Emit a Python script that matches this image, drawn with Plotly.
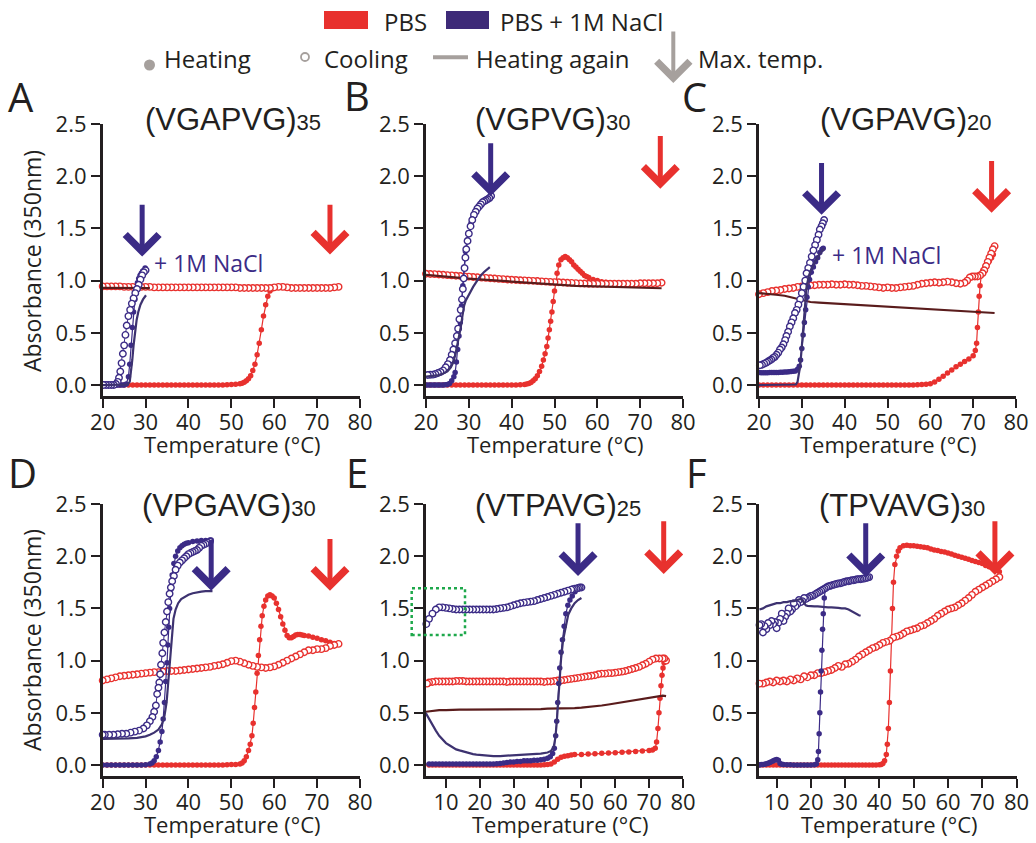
import plotly.graph_objects as go

W, H = 1036, 843
RED = "#e8312e"
BLUE = "#3b2b86"
RED_AGAIN = "#5a1c1c"
BLUE_AGAIN = "#3d3270"
GREY = "#a6a09d"
INK = "#231f20"

# ---------------- data (temperature °C, absorbance 350 nm) ----------------
# Panel A (VGAPVG)35
A_PBS_HEAT = [(20,0),(21,0),(22,0),(23,0),(24,0),(25,0),(26,0),(27,0),(28,0),(29,0),(30,0),(31,0),(32,0),(33,0),(34,0),(35,0),(36,0),(37,0),(38,0),(39,0),(40,0),(41,0),(42,0),(43,0),(44,0),(45,0),(46,0),(47,0),(48,0),(49,0.002),(50,0.004),(51,0.007),(52,0.012),(52.5,0.018),(53,0.026),(53.5,0.04),(54,0.06),(54.5,0.09),(55,0.14),(55.5,0.2),(56,0.29),(56.5,0.4),(57,0.53),(57.5,0.66),(58,0.77),(58.5,0.85),(59,0.9),(59.5,0.92),(60,0.93),(61,0.94),(62,0.94),(63,0.935),(64,0.935),(65,0.93),(66,0.93),(67,0.93),(68,0.93),(69,0.93),(70,0.93),(71,0.93),(72,0.93),(73,0.93),(74,0.93),(75,0.935)]
A_PBS_COOL = [(75,0.94),(74,0.935),(73,0.93),(72,0.93),(71,0.93),(70,0.93),(69,0.93),(68,0.93),(67,0.93),(66,0.93),(65,0.93),(64,0.93),(63,0.935),(62,0.94),(61,0.94),(60,0.935),(59,0.93),(58,0.93),(57,0.93),(56,0.93),(55,0.93),(54,0.93),(53,0.93),(52,0.93),(51,0.935),(50,0.935),(49,0.935),(48,0.935),(47,0.935),(46,0.935),(45,0.935),(44,0.935),(43,0.935),(42,0.935),(41,0.935),(40,0.935),(39,0.935),(38,0.935),(37,0.935),(36,0.935),(35,0.935),(34,0.935),(33,0.935),(32,0.935),(31,0.94),(30,0.94),(29,0.94),(28,0.94),(27,0.94),(26,0.94),(25,0.94),(24,0.945),(23,0.945),(22,0.945),(21,0.945),(20,0.945)]
A_PBS_AGAIN = [(20,0.93),(22,0.93),(24,0.93),(26,0.93),(28,0.93),(30,0.928),(31,0.928)]
A_NACL_HEAT = [(20,0),(20.5,0),(21,0),(21.5,0),(22,0),(22.5,0),(23,0),(23.5,0),(24,0),(24.5,0),(25,0),(25.5,0.01),(26,0.08),(26.3,0.2),(26.6,0.38),(26.9,0.55),(27.2,0.7),(27.5,0.82),(27.8,0.92),(28.1,0.98),(28.4,1.02),(28.7,1.05),(29,1.07),(29.3,1.09),(29.6,1.1),(29.9,1.12)]
A_NACL_COOL = [(30,1.1),(29.6,1.08),(29.2,1.05),(28.8,1.01),(28.4,0.96),(28.0,0.92),(27.6,0.88),(27.2,0.83),(26.8,0.78),(26.4,0.72),(26.0,0.66),(25.6,0.57),(25.3,0.48),(25.0,0.38),(24.7,0.3),(24.4,0.21),(24.1,0.13),(23.8,0.07),(23.5,0.03),(23.1,0.01),(22.6,0),(22,0),(21.4,0),(20.8,0),(20.2,0)]
A_NACL_AGAIN = [(20,0),(22,0),(24,0),(25,0),(25.8,0.005),(26.3,0.03),(26.6,0.12),(26.9,0.24),(27.2,0.38),(27.5,0.5),(27.9,0.62),(28.3,0.7),(28.8,0.77),(29.4,0.82),(30.1,0.86)]

# Panel B (VGPVG)30
B_PBS_HEAT = [(20,0),(21,0),(22,0),(23,0),(24,0),(25,0),(26,0),(27,0),(28,0),(29,0),(30,0),(31,0),(32,0),(33,0),(34,0),(35,0),(36,0),(37,0),(38,0),(39,0),(40,0),(41,0),(42,0.003),(43,0.006),(43.5,0.01),(44,0.015),(44.5,0.025),(45,0.04),(45.5,0.06),(46,0.09),(46.5,0.13),(47,0.18),(47.4,0.24),(47.8,0.3),(48.2,0.37),(48.5,0.45),(48.8,0.53),(49.1,0.61),(49.4,0.7),(49.7,0.8),(50,0.9),(50.3,0.98),(50.6,1.07),(51,1.15),(51.5,1.2),(52,1.22),(52.5,1.23),(53,1.22),(53.5,1.2),(54,1.18),(54.5,1.15),(55,1.13),(55.5,1.11),(56,1.09),(56.5,1.07),(57,1.05),(57.5,1.04),(58,1.03),(59,1.01),(60,1.0),(61,0.99),(62,0.985),(63,0.98),(64,0.98),(65,0.975),(66,0.975),(67,0.975),(68,0.975),(69,0.975),(70,0.975),(71,0.975),(72,0.975),(73,0.975),(74,0.975),(75,0.98)]
B_PBS_COOL = [(75,0.98),(74,0.975),(73,0.975),(72,0.975),(71,0.975),(70,0.975),(69,0.97),(68,0.97),(67,0.97),(66,0.97),(65,0.97),(64,0.97),(63,0.97),(62,0.97),(61,0.97),(60,0.97),(59,0.97),(58,0.97),(57,0.972),(56,0.974),(55,0.976),(54,0.978),(53,0.98),(52,0.982),(51,0.984),(50,0.986),(49,0.988),(48,0.99),(47,0.993),(46,0.996),(45,0.998),(44,1.0),(43,1.002),(42,1.004),(41,1.006),(40,1.008),(39,1.011),(38,1.014),(37,1.017),(36,1.02),(35,1.023),(34,1.026),(33,1.029),(32,1.032),(31,1.035),(30,1.038),(29,1.041),(28,1.044),(27,1.047),(26,1.05),(25,1.053),(24,1.056),(23,1.059),(22,1.062),(21,1.064),(20,1.066)]
B_PBS_AGAIN = [(20,1.055),(22.5,1.048),(25,1.04),(27.5,1.03),(30,1.02),(32.5,1.012),(35,1.005),(37.5,0.997),(40,0.99),(42.5,0.982),(45,0.975),(47.5,0.967),(50,0.96),(52.5,0.955),(55,0.95),(57.5,0.947),(60,0.945),(62.5,0.942),(65,0.94),(67.5,0.937),(70,0.935),(72.5,0.931),(75,0.927)]
B_NACL_HEAT = [(20,0),(20.5,0),(21,0),(21.5,0),(22,0),(22.5,0),(23,0),(23.5,0),(24,0),(24.5,0.002),(25,0.005),(25.5,0.015),(26,0.04),(26.5,0.08),(26.8,0.12),(27.1,0.22),(27.4,0.34),(27.7,0.47),(28,0.6),(28.3,0.76),(28.6,0.95),(28.9,1.13),(29.2,1.28),(29.6,1.39),(30,1.46),(30.5,1.55),(31,1.61),(31.5,1.66),(32,1.69),(32.5,1.72),(33,1.74),(33.5,1.76),(34,1.77),(34.5,1.78),(35,1.8)]
B_NACL_COOL = [(35.2,1.81),(34.8,1.79),(34.4,1.78),(34,1.77),(33.6,1.76),(33.2,1.75),(32.8,1.73),(32.4,1.71),(32,1.69),(31.6,1.66),(31.2,1.63),(30.8,1.58),(30.4,1.52),(30,1.45),(29.7,1.38),(29.4,1.3),(29.2,1.22),(29,1.12),(28.8,1.02),(28.6,0.92),(28.4,0.82),(28.1,0.72),(27.8,0.63),(27.5,0.54),(27.2,0.47),(26.8,0.4),(26.4,0.34),(26,0.29),(25.6,0.24),(25.1,0.2),(24.6,0.17),(24,0.14),(23.4,0.125),(22.8,0.115),(22.2,0.105),(21.6,0.1),(21,0.098),(20.4,0.096)]
B_NACL_AGAIN = [(20,0.08),(21,0.085),(22,0.09),(23,0.095),(24,0.11),(25,0.13),(25.8,0.17),(26.4,0.22),(26.9,0.3),(27.3,0.38),(27.7,0.46),(28.1,0.55),(28.5,0.66),(28.9,0.76),(29.3,0.81),(29.8,0.85),(30.4,0.89),(31,0.94),(31.8,0.99),(32.6,1.04),(33.5,1.08),(34.2,1.11),(34.9,1.13)]

# Panel C (VGPAVG)20
C_PBS_HEAT = [(20,0),(21,0),(22,0),(23,0),(24,0),(25,0),(26,0),(27,0),(28,0),(29,0),(30,0),(31,0),(32,0),(33,0),(34,0),(35,0),(36,0),(37,0),(38,0),(39,0),(40,0),(41,0),(42,0),(43,0),(44,0),(45,0),(46,0),(47,0),(48,0),(49,0),(50,0),(51,0),(52,0),(53,0),(54,0),(55,0),(56,0),(57,0.002),(58,0.004),(59,0.007),(60,0.012),(61,0.03),(62,0.055),(63,0.085),(64,0.115),(65,0.145),(66,0.175),(67,0.2),(68,0.225),(69,0.25),(70,0.28),(70.5,0.33),(70.8,0.4),(71,0.55),(71.2,0.7),(71.4,0.85),(71.6,0.95),(71.9,1.05),(72.3,1.1),(72.8,1.13),(73.3,1.16),(73.8,1.19),(74.3,1.22),(74.7,1.25)]
C_PBS_COOL = [(75,1.33),(74.6,1.3),(74.2,1.26),(73.8,1.22),(73.4,1.18),(73,1.14),(72.6,1.1),(72.2,1.07),(71.6,1.05),(71,1.04),(70.4,1.04),(69.8,1.04),(69.2,1.03),(68.6,1.0),(68,0.98),(67,0.97),(66,0.975),(65,0.985),(64,0.99),(63,0.985),(62,0.98),(61,0.985),(60,0.98),(59,0.975),(58,0.97),(57,0.96),(56,0.95),(55,0.945),(54,0.94),(53,0.935),(52,0.93),(51,0.93),(50,0.935),(49,0.93),(48,0.935),(47,0.94),(46,0.945),(45,0.95),(44,0.95),(43,0.955),(42,0.96),(41,0.96),(40,0.965),(39,0.96),(38,0.96),(37,0.965),(36,0.96),(35,0.96),(34,0.96),(33,0.955),(32,0.955),(31,0.95),(30,0.945),(29,0.94),(28,0.93),(27,0.925),(26,0.92),(25,0.91),(24,0.905),(23,0.9),(22,0.89),(21,0.88),(20,0.87)]
C_PBS_AGAIN = [(20,0.88),(22,0.875),(24,0.865),(26,0.855),(28,0.835),(30,0.815),(32,0.795),(34,0.79),(36,0.785),(38,0.78),(40,0.78),(42,0.775),(44,0.77),(46,0.765),(48,0.76),(50,0.755),(52,0.75),(54,0.745),(56,0.74),(58,0.735),(60,0.73),(62,0.725),(64,0.72),(66,0.715),(68,0.71),(70,0.705),(72,0.7),(74,0.695),(75,0.69)]
C_NACL_HEAT = [(20,0.12),(20.5,0.118),(21,0.118),(21.5,0.118),(22,0.118),(22.5,0.119),(23,0.12),(23.5,0.12),(24,0.12),(24.5,0.121),(25,0.122),(25.5,0.123),(26,0.124),(26.5,0.125),(27,0.127),(27.5,0.129),(28,0.131),(28.5,0.135),(29,0.15),(29.4,0.18),(29.7,0.24),(30,0.35),(30.3,0.48),(30.6,0.6),(30.9,0.72),(31.2,0.84),(31.5,0.94),(31.8,1.01),(32.2,1.08),(32.7,1.13),(33.2,1.18),(33.7,1.22),(34.2,1.27),(34.7,1.3),(35,1.31)]
C_NACL_COOL = [(35.2,1.58),(34.9,1.55),(34.6,1.52),(34.2,1.49),(33.9,1.44),(33.5,1.39),(33.1,1.34),(32.7,1.29),(32.3,1.23),(31.9,1.17),(31.5,1.12),(31.1,1.07),(30.8,1.0),(30.4,0.94),(30,0.88),(29.6,0.82),(29.2,0.77),(28.8,0.72),(28.4,0.69),(28,0.64),(27.6,0.6),(27.2,0.56),(26.8,0.51),(26.4,0.47),(26.1,0.43),(25.7,0.39),(25.3,0.36),(24.9,0.34),(24.5,0.31),(24.1,0.29),(23.7,0.27),(23.3,0.26),(22.9,0.245),(22.5,0.235),(22.1,0.225),(21.7,0.215),(21.2,0.205),(20.7,0.195),(20.2,0.19)]
C_NACL_AGAIN = [(20,0),(22,0),(24,0),(26,0),(28,0),(28.6,0.005),(29,0.03),(29.3,0.09),(29.6,0.18),(29.9,0.32),(30.1,0.43),(30.3,0.56),(30.5,0.69),(30.8,0.82),(31.1,0.94),(31.6,1.04),(32.1,1.1),(32.8,1.16),(33.5,1.21),(34.3,1.26),(35.2,1.31)]

# Panel D (VPGAVG)30
D_PBS_HEAT = [(20,0),(21,0),(22,0),(23,0),(24,0),(25,0),(26,0),(27,0),(28,0),(29,0),(30,0),(31,0),(32,0),(33,0),(34,0),(35,0),(36,0),(37,0),(38,0),(39,0),(40,0),(41,0),(42,0),(43,0),(44,0),(45,0),(46,0),(47,0),(48,0),(49,0.002),(50,0.004),(51,0.006),(52,0.01),(52.5,0.02),(53,0.04),(53.5,0.08),(54,0.14),(54.4,0.2),(54.8,0.28),(55.1,0.4),(55.4,0.55),(55.7,0.7),(56,0.88),(56.3,1.05),(56.6,1.2),(56.9,1.33),(57.2,1.43),(57.6,1.52),(58,1.58),(58.5,1.62),(59,1.63),(59.5,1.62),(60,1.6),(60.5,1.55),(61,1.49),(61.5,1.42),(62,1.35),(62.5,1.29),(63,1.24),(63.5,1.22),(64,1.22),(64.5,1.23),(65,1.245),(65.5,1.25),(66,1.25),(66.5,1.245),(67,1.24),(68,1.235),(69,1.225),(70,1.215),(71,1.2),(72,1.19),(73,1.175),(74,1.165),(75,1.16)]
D_PBS_COOL = [(75,1.16),(74,1.15),(73,1.14),(72,1.12),(71,1.11),(70,1.11),(69,1.1),(68,1.1),(67,1.08),(66,1.06),(65,1.04),(64,1.02),(63,1.0),(62,0.98),(61,0.96),(60,0.945),(59,0.935),(58,0.93),(57,0.935),(56,0.94),(55,0.95),(54,0.96),(53,0.975),(52,0.99),(51,1.0),(50,0.995),(49,0.98),(48,0.965),(47,0.955),(46,0.95),(45,0.94),(44,0.935),(43,0.93),(42,0.925),(41,0.92),(40,0.915),(39,0.91),(38,0.905),(37,0.9),(36,0.9),(35,0.9),(34,0.895),(33,0.89),(32,0.89),(31,0.885),(30,0.88),(29,0.875),(28,0.87),(27,0.865),(26,0.86),(25,0.855),(24,0.85),(23,0.84),(22,0.83),(21,0.82),(20,0.81)]
D_NACL_HEAT = [(20,0),(21,0),(22,0),(23,0),(24,0),(25,0),(26,0),(27,0),(28,0),(29,0),(30,0.003),(31,0.01),(31.5,0.02),(32,0.04),(32.5,0.08),(33,0.14),(33.4,0.22),(33.8,0.32),(34.1,0.44),(34.4,0.6),(34.7,0.8),(35,0.98),(35.2,1.15),(35.4,1.32),(35.6,1.5),(35.9,1.68),(36.2,1.82),(36.6,1.93),(37,2.0),(37.5,2.05),(38,2.08),(38.5,2.1),(39,2.115),(39.5,2.125),(40,2.13),(41,2.14),(42,2.145),(43,2.15),(44,2.15),(45,2.155),(45.3,2.155)]
D_NACL_COOL = [(45,2.14),(44.5,2.13),(44,2.12),(43.5,2.11),(43,2.1),(42.5,2.08),(42,2.06),(41.5,2.05),(41,2.04),(40.5,2.03),(40,2.02),(39.5,2.0),(39,1.98),(38.5,1.96),(38,1.94),(37.5,1.91),(37,1.87),(36.6,1.81),(36.2,1.76),(35.9,1.7),(35.6,1.64),(35.3,1.56),(35.0,1.47),(34.7,1.37),(34.4,1.27),(34.1,1.17),(33.9,1.07),(33.6,0.96),(33.4,0.87),(33.2,0.79),(33.0,0.74),(32.7,0.68),(32.4,0.57),(32,0.51),(31.6,0.46),(31,0.42),(30.3,0.38),(29.5,0.35),(28.5,0.33),(27.5,0.32),(26.5,0.31),(25.5,0.3),(24.5,0.3),(23.5,0.295),(22.5,0.29),(21.5,0.29),(20.5,0.29),(20,0.29)]
D_NACL_AGAIN = [(20,0.25),(22,0.25),(24,0.25),(26,0.255),(28,0.26),(30,0.275),(31,0.29),(32,0.31),(33,0.34),(33.8,0.39),(34.4,0.47),(34.9,0.6),(35.2,0.75),(35.5,0.92),(35.8,1.1),(36.1,1.27),(36.5,1.4),(37,1.49),(37.6,1.55),(38.3,1.59),(39,1.61),(40,1.63),(41,1.645),(42,1.655),(43,1.66),(44,1.665),(45,1.665),(45.6,1.665)]

# Panel E (VTPAVG)25
E_PBS_HEAT = [(4,0),(5,0),(6,0),(7,0),(8,0),(9,0),(10,0),(11,0),(12,0),(13,0),(14,0),(15,0),(16,0),(17,0),(18,0),(19,0),(20,0),(21,0),(22,0),(23,0),(24,0),(25,0),(26,0),(27,0),(28,0),(29,0),(30,0),(31,0),(32,0),(33,0),(34,0),(35,0),(36,0),(37,0),(38,0),(39,0.002),(40,0.005),(41,0.01),(42,0.03),(43,0.055),(44,0.075),(45,0.085),(46,0.09),(47,0.095),(48,0.1),(50,0.1),(52,0.105),(54,0.108),(56,0.112),(58,0.115),(60,0.118),(62,0.122),(64,0.126),(66,0.13),(68,0.135),(70,0.14),(71,0.145),(71.8,0.16),(72.2,0.22),(72.6,0.35),(72.9,0.5),(73.2,0.64),(73.5,0.76),(73.8,0.86),(74.1,0.93),(74.4,0.98),(74.7,1.0)]
E_PBS_COOL = [(75,1.0),(74.5,1.02),(74,1.02),(73,1.02),(72,1.02),(71,1.01),(70,0.99),(69,0.97),(68,0.955),(67,0.94),(66,0.93),(65,0.92),(64,0.91),(63,0.9),(62,0.895),(61,0.89),(60,0.885),(59,0.88),(58,0.88),(57,0.875),(56,0.875),(55,0.87),(54,0.86),(53,0.855),(52,0.85),(51,0.845),(50,0.84),(49,0.835),(48,0.83),(47,0.825),(46,0.82),(45,0.815),(44,0.81),(43,0.81),(42,0.805),(41,0.8),(40,0.8),(39,0.795),(38,0.8),(37,0.8),(36,0.8),(35,0.8),(34,0.8),(33,0.8),(32,0.8),(31,0.8),(30,0.8),(29,0.8),(28,0.795),(27,0.8),(26,0.8),(25,0.8),(24,0.8),(23,0.8),(22,0.8),(21,0.8),(20,0.8),(19,0.8),(18,0.8),(17,0.8),(16,0.8),(15,0.805),(14,0.805),(13,0.805),(12,0.8),(11,0.8),(10,0.8),(9,0.8),(8,0.8),(7,0.8),(6,0.795),(5,0.79),(4.4,0.78)]
E_PBS_AGAIN = [(4,0.51),(6,0.52),(8,0.525),(10,0.525),(12,0.53),(14,0.53),(16,0.53),(18,0.53),(20,0.53),(22,0.53),(24,0.53),(26,0.53),(28,0.53),(30,0.535),(32,0.535),(34,0.535),(36,0.535),(38,0.535),(40,0.54),(42,0.54),(44,0.54),(46,0.545),(48,0.545),(50,0.55),(52,0.555),(54,0.56),(56,0.57),(58,0.58),(60,0.59),(62,0.6),(64,0.61),(66,0.62),(68,0.63),(70,0.645),(72,0.655),(74,0.665),(75,0.66)]
E_NACL_HEAT = [(4,0.01),(5,0.01),(6,0.01),(7,0.01),(8,0.01),(9,0.01),(10,0.01),(11,0.01),(12,0.01),(13,0.01),(14,0.01),(15,0.01),(16,0.01),(17,0.01),(18,0.01),(19,0.01),(20,0.01),(21,0.01),(22,0.01),(23,0.01),(24,0.01),(25,0.012),(26,0.015),(27,0.02),(28,0.025),(29,0.03),(30,0.03),(31,0.035),(32,0.035),(33,0.04),(34,0.04),(35,0.04),(36,0.045),(37,0.045),(38,0.05),(39,0.055),(40,0.065),(40.8,0.08),(41.5,0.11),(42,0.16),(42.4,0.28),(42.7,0.42),(43,0.6),(43.3,0.78),(43.6,0.93),(44,1.08),(44.4,1.2),(44.9,1.33),(45.4,1.45),(46,1.53),(46.6,1.58),(47.3,1.62),(48.1,1.66),(48.8,1.68),(49.5,1.69),(50,1.7)]
E_NACL_COOL = [(50,1.7),(49.5,1.7),(49,1.695),(48.5,1.69),(48,1.69),(47.5,1.685),(47,1.68),(46,1.67),(45,1.66),(44,1.65),(43,1.64),(42,1.63),(41,1.62),(40,1.61),(39,1.6),(38,1.59),(37,1.58),(36,1.57),(35,1.565),(34,1.56),(33,1.555),(32,1.55),(31,1.54),(30,1.53),(29,1.52),(28,1.51),(27,1.505),(26,1.5),(25,1.495),(24,1.49),(23,1.49),(22,1.49),(21,1.49),(20,1.49),(19,1.49),(18,1.49),(17,1.49),(16,1.49),(15,1.49),(14,1.49),(13,1.49),(12,1.495),(11,1.5),(10,1.505),(9,1.51),(8,1.51),(7,1.49),(6,1.45),(5,1.4),(4.2,1.35)]
E_NACL_AGAIN = [(4,0.5),(5,0.44),(6,0.38),(7,0.33),(8,0.28),(9,0.24),(10,0.21),(11,0.19),(12,0.17),(13,0.15),(14,0.14),(15,0.13),(16,0.12),(17,0.11),(18,0.105),(19,0.1),(20,0.096),(22,0.09),(24,0.086),(26,0.086),(28,0.09),(30,0.095),(32,0.1),(34,0.1),(36,0.105),(38,0.11),(40,0.12),(41,0.135),(41.8,0.17),(42.3,0.26),(42.7,0.4),(43.1,0.6),(43.5,0.82),(44,1.02),(44.6,1.2),(45.3,1.33),(46.1,1.44),(47,1.5),(48,1.55),(49,1.58),(50,1.6)]

# Panel F (TPVAVG)30
F_PBS_HEAT = [(5,0),(6,0),(7,0),(8,0),(9,0),(10,0),(11,0),(12,0),(13,0),(14,0),(15,0),(16,0),(17,0),(18,0),(19,0),(20,0),(21,0),(22,0),(23,0),(24,0),(25,0),(26,0),(27,0),(28,0),(29,0),(30,0),(31,0),(32,0),(33,0),(34,0),(35,0),(36,0),(37,0),(38,0),(39,0),(40,0.002),(40.5,0.005),(41,0.015),(41.5,0.04),(42,0.1),(42.3,0.2),(42.6,0.35),(42.9,0.6),(43.2,0.9),(43.5,1.2),(43.8,1.5),(44.1,1.75),(44.5,1.92),(45,2.0),(45.5,2.05),(46,2.08),(47,2.1),(48,2.105),(49,2.1),(50,2.1),(51,2.095),(52,2.09),(53,2.085),(54,2.08),(55,2.07),(56,2.06),(57,2.055),(58,2.045),(59,2.04),(60,2.03),(61,2.02),(62,2.01),(63,2.0),(64,1.99),(65,1.98),(66,1.97),(67,1.96),(68,1.95),(69,1.94),(70,1.93),(71,1.91),(72,1.9),(73,1.89),(74,1.87),(75,1.85)]
F_PBS_COOL = [(75,1.8),(74,1.78),(73,1.76),(72,1.74),(71,1.72),(70,1.7),(69,1.68),(68,1.66),(67,1.63),(66,1.6),(65,1.575),(64,1.55),(63,1.53),(62,1.51),(61,1.5),(60,1.49),(59,1.47),(58,1.45),(57,1.43),(56,1.4),(55,1.38),(54,1.36),(53,1.34),(52,1.33),(51,1.31),(50,1.3),(49,1.29),(48,1.28),(47,1.26),(46,1.24),(45,1.23),(44,1.22),(43,1.19),(42,1.18),(41,1.17),(40,1.15),(39,1.13),(38,1.12),(37,1.1),(36,1.08),(35,1.06),(34,1.04),(33,1.01),(32,0.99),(31,0.97),(30,0.965),(29,0.94),(28,0.95),(27,0.93),(26,0.91),(25,0.9),(24,0.89),(23,0.88),(22,0.88),(21,0.86),(20,0.86),(19,0.84),(18,0.85),(17,0.82),(16,0.83),(15,0.81),(14,0.82),(13,0.8),(12,0.81),(11,0.8),(10,0.81),(9,0.79),(8,0.8),(7,0.79),(6,0.78),(5,0.78)]
F_NACL_HEAT = [(5,0),(5.5,0.005),(6,0.005),(6.5,0.008),(7,0.012),(7.5,0.018),(8,0.025),(8.5,0.032),(9,0.04),(9.5,0.048),(10,0.052),(10.5,0.045),(11,0.015),(11.5,0.008),(12,0.005),(13,0.003),(14,0.002),(15,0),(16,0),(17,0),(18,0),(19,0),(20,0),(21,0.002),(21.6,0.01),(22,0.05),(22.2,0.13),(22.4,0.3),(22.6,0.5),(22.8,0.7),(23,0.9),(23.2,1.1),(23.4,1.3),(23.6,1.45),(23.9,1.6),(24.2,1.68)]
F_NACL_COOL = [(37,1.8),(36.5,1.795),(36,1.79),(35.5,1.785),(35,1.785),(34.5,1.78),(34,1.78),(33.5,1.78),(33,1.775),(32.5,1.77),(32,1.77),(31.5,1.765),(31,1.76),(30.5,1.76),(30,1.755),(29.5,1.75),(29,1.745),(28.5,1.74),(28,1.74),(27.5,1.735),(27,1.73),(26.5,1.725),(26,1.72),(25.5,1.715),(25,1.71),(24.5,1.7),(24,1.69),(23.5,1.68),(23,1.67),(22.5,1.66),(22,1.65),(21.5,1.64),(21,1.63),(20.5,1.62),(20,1.62),(19.5,1.61),(19,1.6),(18.5,1.59),(18,1.6),(17.5,1.57),(17,1.56),(16.5,1.58),(16,1.54),(15.5,1.52),(15,1.55),(14.5,1.49),(14,1.47),(13.5,1.5),(13,1.45),(12.5,1.42),(12,1.38),(11.5,1.45),(11,1.4),(10.5,1.36),(10,1.31),(9.5,1.37),(9,1.35),(8.5,1.38),(8,1.34),(7.5,1.36),(7,1.3),(6.5,1.33),(6,1.27),(5.5,1.35),(5,1.34)]
F_NACL_AGAIN = [(5,1.49),(6,1.5),(7,1.52),(8,1.53),(9,1.54),(10,1.55),(11,1.55),(12,1.56),(13,1.56),(14,1.57),(15,1.57),(16,1.58),(17,1.59),(17.5,1.58),(18,1.55),(18.5,1.53),(19,1.525),(20,1.52),(21,1.52),(22,1.52),(23,1.515),(24,1.515),(25,1.51),(26,1.51),(27,1.51),(28,1.505),(29,1.5),(30,1.5),(31,1.49),(32,1.47),(33,1.45),(34,1.435),(34.5,1.43)]

# maximum-temperature arrows: (temperature, tip absorbance, tail absorbance)
A_ARROWS = {"nacl": (29.2, 1.23, 1.74), "pbs": (73.0, 1.25, 1.74)}
B_ARROWS = {"nacl": (35.1, 1.81, 2.33), "pbs": (74.7, 1.88, 2.40)}
C_ARROWS = {"nacl": (34.6, 1.63, 2.14), "pbs": (74.3, 1.65, 2.16)}
D_ARROWS = {"nacl": (45.3, 1.67, 2.17), "pbs": (73.0, 1.67, 2.18)}
E_ARROWS = {"nacl": (49.0, 1.81, 2.33), "pbs": (74.3, 1.83, 2.35)}
F_ARROWS = {"nacl": (36.0, 1.80, 2.33), "pbs": (73.7, 1.82, 2.35)}

LETTERS = ["A", "B", "C", "D", "E", "F"]
TITLES = ["(VGAPVG)", "(VGPVG)", "(VGPAVG)", "(VPGAVG)", "(VTPAVG)", "(TPVAVG)"]
SUBS = ["35", "30", "20", "30", "25", "30"]
Y_TICKS = [0, 0.5, 1.0, 1.5, 2.0, 2.5]
Y_LABELS = ["0.0", "0.5", "1.0", "1.5", "2.0", "2.5"]
X_TICKS_20 = [20, 30, 40, 50, 60, 70, 80]
X_TICKS_10 = [10, 20, 30, 40, 50, 60, 70, 80]

# ---------------- layout helpers (page pixel -> paper) ----------------
def px(x):
    return x / W

def py(y):
    return 1 - y / H

panels = [
    dict(data=(A_PBS_HEAT, A_PBS_COOL, A_PBS_AGAIN, A_NACL_HEAT, A_NACL_COOL, A_NACL_AGAIN), arrows=A_ARROWS,
         xdom=(102.7, 360), row=0, xr=(20, 80), xt=X_TICKS_20, title_x=143, letter=(21, 97), tlabel_x=232),
    dict(data=(B_PBS_HEAT, B_PBS_COOL, B_PBS_AGAIN, B_NACL_HEAT, B_NACL_COOL, B_NACL_AGAIN), arrows=B_ARROWS,
         xdom=(426, 683), row=0, xr=(20, 80), xt=X_TICKS_20, title_x=473, letter=(357, 96), tlabel_x=555),
    dict(data=(C_PBS_HEAT, C_PBS_COOL, C_PBS_AGAIN, C_NACL_HEAT, C_NACL_COOL, C_NACL_AGAIN), arrows=C_ARROWS,
         xdom=(759, 1016), row=0, xr=(20, 80), xt=X_TICKS_20, title_x=818, letter=(694, 97), tlabel_x=888),
    dict(data=(D_PBS_HEAT, D_PBS_COOL, None, D_NACL_HEAT, D_NACL_COOL, D_NACL_AGAIN), arrows=D_ARROWS,
         xdom=(102.7, 360), row=1, xr=(20, 80), xt=X_TICKS_20, title_x=140, letter=(22, 472), tlabel_x=232),
    dict(data=(E_PBS_HEAT, E_PBS_COOL, E_PBS_AGAIN, E_NACL_HEAT, E_NACL_COOL, E_NACL_AGAIN), arrows=E_ARROWS,
         xdom=(426, 683), row=1, xr=(4.1, 80), xt=X_TICKS_10, title_x=473, letter=(357, 472), tlabel_x=560),
    dict(data=(F_PBS_HEAT, F_PBS_COOL, None, F_NACL_HEAT, F_NACL_COOL, F_NACL_AGAIN), arrows=F_ARROWS,
         xdom=(759, 1016.5), row=1, xr=(4.85, 80), xt=X_TICKS_10, title_x=817, letter=(696, 472), tlabel_x=889),
]
ROWS = [dict(ytop=124, ybot=396, title_y=120, tlabel_y=444, ylabel_y=261),
        dict(ytop=504, ybot=776, title_y=506, tlabel_y=824, ylabel_y=640)]

fig = go.Figure()
annotations = []
shapes = []
layout = dict(template="none", width=W, height=H, margin=dict(l=0, r=0, t=0, b=0, pad=0, autoexpand=False),
              paper_bgcolor="white", plot_bgcolor="white", showlegend=False,
              font=dict(family="Open Sans", color=INK))

BODY = "Open Sans"

def add(curve, xa, ya, kind, color):
    if curve is None:
        return
    xs = [p[0] for p in curve]
    ys = [p[1] for p in curve]
    if kind == "heat":
        fig.add_trace(go.Scatter(x=xs, y=ys, xaxis=xa, yaxis=ya, mode="lines+markers", cliponaxis=False,
                                 line=dict(color=color, width=1.2),
                                 marker=dict(color=color, size=5.5, line=dict(width=0)), hoverinfo="skip"))
    elif kind == "cool":
        fig.add_trace(go.Scatter(x=xs, y=ys, xaxis=xa, yaxis=ya, mode="lines+markers", cliponaxis=False,
                                 line=dict(color=color, width=1.0),
                                 marker=dict(color="white", size=6.5, line=dict(color=color, width=1.4)),
                                 hoverinfo="skip"))
    else:
        fig.add_trace(go.Scatter(x=xs, y=ys, xaxis=xa, yaxis=ya, mode="lines", cliponaxis=False,
                                 line=dict(color=color, width=2.2), hoverinfo="skip"))

for i, p in enumerate(panels):
    n = i + 1
    xa = "x" if n == 1 else f"x{n}"
    ya = "y" if n == 1 else f"y{n}"
    xkey = "xaxis" if n == 1 else f"xaxis{n}"
    ykey = "yaxis" if n == 1 else f"yaxis{n}"
    r = ROWS[p["row"]]
    layout[xkey] = dict(domain=[px(p["xdom"][0]), px(p["xdom"][1])], range=list(p["xr"]), anchor=ya,
                        automargin=False, ticklabelstandoff=-4,
                        tickmode="array", tickvals=p["xt"], ticks="outside", ticklen=9, tickwidth=2,
                        tickcolor=INK, showline=True, linewidth=2.5, linecolor=INK, showgrid=False,
                        zeroline=False, tickfont=dict(family=BODY, size=22, color=INK), fixedrange=True)
    layout[ykey] = dict(domain=[py(r["ybot"]), py(r["ytop"])], range=[-0.105, 2.5], anchor=xa,
                        automargin=False,
                        tickmode="array", tickvals=Y_TICKS, ticktext=Y_LABELS, ticks="outside", ticklen=9,
                        tickwidth=2, tickcolor=INK, showline=True, linewidth=2.5, linecolor=INK,
                        showgrid=False, zeroline=False, tickfont=dict(family=BODY, size=22, color=INK),
                        fixedrange=True)
    pbs_heat, pbs_cool, pbs_again, nacl_heat, nacl_cool, nacl_again = p["data"]
    add(pbs_heat, xa, ya, "heat", RED)
    add(pbs_cool, xa, ya, "cool", RED)
    add(pbs_again, xa, ya, "again", RED_AGAIN)
    add(nacl_heat, xa, ya, "heat", BLUE)
    add(nacl_cool, xa, ya, "cool", BLUE)
    add(nacl_again, xa, ya, "again", BLUE_AGAIN)

    for key, col in (("nacl", BLUE), ("pbs", RED)):
        t, tip, tail = p["arrows"][key]
        annotations.append(dict(x=t, y=tip, ax=t, ay=tail, xref=xa, yref=ya, axref=xa, ayref=ya,
                                text="", showarrow=True, arrowhead=4, arrowsize=1.3, arrowwidth=5,
                                arrowcolor=col, standoff=0))

    annotations.append(dict(x=px(p["title_x"]), y=py(r["title_y"]), xref="paper", yref="paper",
                            xanchor="left", yanchor="middle", showarrow=False,
                            text=f"{TITLES[i]}<span style='font-size:22px'>{SUBS[i]}</span>",
                            font=dict(family="Liberation Sans", size=31, color=INK)))
    annotations.append(dict(x=px(p["letter"][0]), y=py(p["letter"][1]), xref="paper", yref="paper",
                            xanchor="center", yanchor="middle", showarrow=False, text=LETTERS[i],
                            font=dict(family=BODY, size=40, color=INK)))
    annotations.append(dict(x=px(p["tlabel_x"]), y=py(r["tlabel_y"]), xref="paper", yref="paper",
                            xanchor="center", yanchor="middle", showarrow=False, text="Temperature (°C)",
                            font=dict(family=BODY, size=22, color=INK)))

for r in ROWS:
    annotations.append(dict(x=px(32), y=py(r["ylabel_y"]), xref="paper", yref="paper", textangle=-90,
                            xanchor="center", yanchor="middle", showarrow=False, text="Absorbance (350nm)",
                            font=dict(family=BODY, size=23, color=INK)))

annotations.append(dict(x=31.6, y=1.17, xref="x", yref="y", xanchor="left", yanchor="middle",
                        showarrow=False, text="+ 1M NaCl", font=dict(family=BODY, size=23, color=BLUE)))
annotations.append(dict(x=36.6, y=1.25, xref="x3", yref="y3", xanchor="left", yanchor="middle",
                        showarrow=False, text="+ 1M NaCl", font=dict(family=BODY, size=23, color=BLUE)))

shapes.append(dict(type="rect", xref="paper", yref="paper", x0=px(411.7), x1=px(465), y0=py(635), y1=py(588.3),
                   line=dict(color="#1ea84b", width=2.5, dash="dot"), fillcolor="rgba(0,0,0,0)"))

# ---------------- top key ----------------
shapes.append(dict(type="rect", xref="paper", yref="paper", x0=px(324), x1=px(368), y0=py(29), y1=py(11),
                   fillcolor=RED, line=dict(width=0)))
shapes.append(dict(type="rect", xref="paper", yref="paper", x0=px(446), x1=px(489), y0=py(29), y1=py(11),
                   fillcolor="#3e2a78", line=dict(width=0)))
annotations.append(dict(x=px(382), y=py(21), xref="paper", yref="paper", xanchor="left", yanchor="middle",
                        showarrow=False, text="PBS", font=dict(family=BODY, size=24, color=INK)))
annotations.append(dict(x=px(498), y=py(21), xref="paper", yref="paper", xanchor="left", yanchor="middle",
                        showarrow=False, text="PBS + 1M NaCl", font=dict(family=BODY, size=24, color=INK)))
shapes.append(dict(type="circle", xref="paper", yref="paper", x0=px(144), x1=px(155), y0=py(70.5), y1=py(59.5),
                   fillcolor=GREY, line=dict(width=0)))
shapes.append(dict(type="circle", xref="paper", yref="paper", x0=px(301), x1=px(309), y0=py(61), y1=py(53),
                   fillcolor="white", line=dict(color=GREY, width=1.8)))
shapes.append(dict(type="line", xref="paper", yref="paper", x0=px(433), x1=px(468), y0=py(57.3), y1=py(57.3),
                   line=dict(color=GREY, width=4)))
for txt, x in (("Heating", 162), ("Cooling", 322), ("Heating again", 474), ("Max. temp.", 696)):
    annotations.append(dict(x=px(x), y=py(58.5), xref="paper", yref="paper", xanchor="left", yanchor="middle",
                            showarrow=False, text=txt, font=dict(family=BODY, size=24, color=INK)))
annotations.append(dict(x=px(673.3), y=py(83), ax=0, ay=-53, xref="paper", yref="paper", text="",
                        showarrow=True, arrowhead=4, arrowsize=1.6, arrowwidth=4, arrowcolor=GREY, standoff=0))

layout["annotations"] = annotations
layout["shapes"] = shapes
fig.update_layout(**layout)
fig.write_html("out.html", config={"displayModeBar": False},
               post_script="document.body.style.margin='0px';")
